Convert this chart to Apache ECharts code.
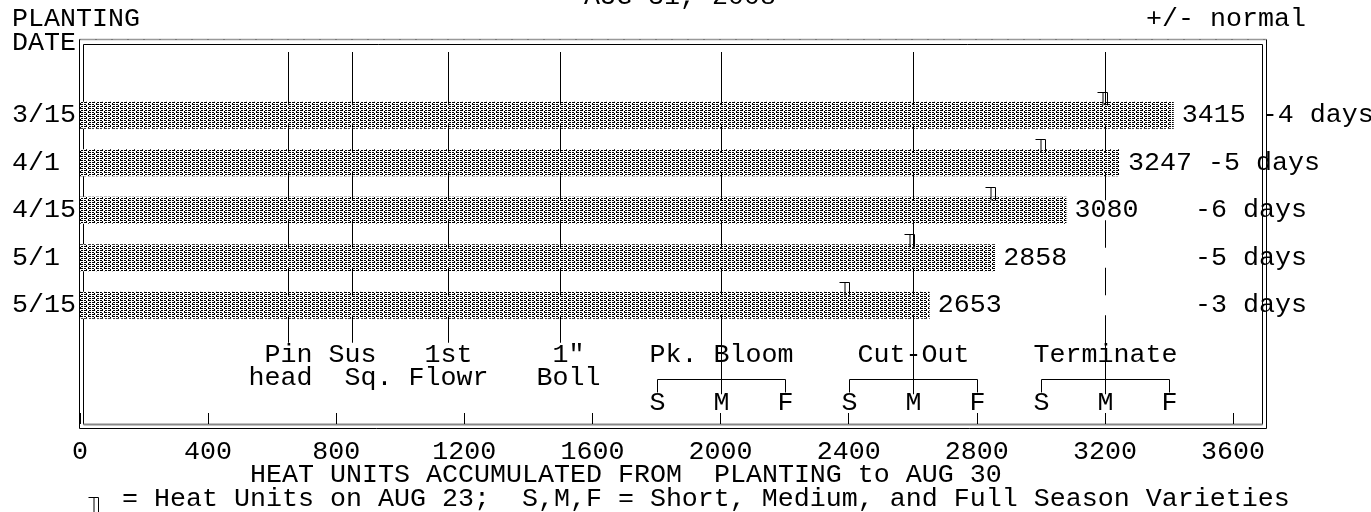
<!DOCTYPE html>
<html lang="en">
<head>
    <meta charset="UTF-8">
    <title>Heat units</title>
    <script src="https://cdn.jsdelivr.net/npm/echarts@6/dist/echarts.min.js"></script>
    <style>
        html, body { margin: 0; padding: 0; background: #fff; }
        #main { width: 1371px; height: 512px; }
    </style>
</head>
<body>
<div id="main"></div>
<script>
    // planting dates and heat units accumulated to AUG 30
    const dates = ['3/15', '4/1', '4/15', '5/1', '5/15']
    const heatUnits = [3415, 3247, 3080, 2858, 2653]
    const daysFromNormal = [-4, -5, -6, -5, -3]
    // heat units on AUG 23 (the little marks above the bars)
    const aug23Units = [3195, 3000, 2845, 2590, 2390]

    // crop stages
    const stageUnits = [650, 850, 1150, 1500]
    const stageTop = [' Pin ', ' Sus ', '1st', ' 1"']
    const stageBottom = ['head ', '  Sq.', 'Flowr', ' Boll']
    const seasonStages = ['Pk. Bloom', 'Cut-Out', 'Terminate']
    const seasonShort = [1800, 2400, 3000]
    const seasonMedium = [2000, 2600, 3200]
    const seasonFull = [2200, 2800, 3400]

    const xMin = 0, xMax = 3600, xStep = 400

    const FONT = '"Liberation Mono", "DejaVu Sans Mono", monospace'
    const FS = 26.67
    const CW = 16          // character width of the mono font
    const GRID = {left: 80, right: 138, top: 44, bottom: 88}
    const daysColumn = 1195

    const axisCats = [''].concat(dates, [' ', '  '])

    function makePattern() {
        const c = document.createElement('canvas')
        c.width = 8
        c.height = 4
        const g = c.getContext('2d')
        g.fillStyle = '#fff'
        g.fillRect(0, 0, 8, 4)
        g.fillStyle = '#000'
        const rows = ['###.##..', '......#.', '.##.###.', '#.......']
        rows.forEach(function (r, y) {
            for (let x = 0; x < r.length; x++) {
                if (r[x] === '#') g.fillRect(x, y, 1, 1)
            }
        })
        return c
    }

    function crisp(v) {
        return Math.round(v) + 0.5
    }

    function vline(x, y1, y2) {
        return {type: 'line', shape: {x1: x, y1: y1, x2: x, y2: y2}, style: {stroke: '#000', lineWidth: 1}}
    }

    function txt(text, x, y, align) {
        return {
            type: 'text',
            style: {text: text, x: x, y: y, fill: '#000', fontSize: FS, fontFamily: FONT,
                align: align || 'center', verticalAlign: 'middle'}
        }
    }

    // vertical stage line, hidden where the bar rows are
    function gapSegments(api, x, y0, y1) {
        const out = []
        let cur = y0
        for (let i = 1; i <= dates.length; i++) {
            const c = api.coord([0, i])[1]
            if (c - 10 > cur) out.push(vline(x, cur, c - 10))
            cur = Math.max(cur, c + 10)
        }
        if (y1 > cur) out.push(vline(x, cur, y1))
        return out
    }

    function renderStage(params, api) {
        const i = params.dataIndex
        const x = crisp(api.coord([api.value(0), 0])[0])
        const top = params.coordSys.y
        const band = api.size([0, 1])[1]
        const row1 = api.coord([0, 6])[1] + 2
        const children = gapSegments(api, x, top + 8, row1 - 12)
        children.push(txt(stageTop[i], x, row1))
        children.push(txt(stageBottom[i], x, row1 + band / 2 - 1))
        return {type: 'group', children: children}
    }

    function renderSeason(params, api) {
        const i = params.dataIndex
        const x = crisp(api.coord([seasonMedium[i], 0])[0])
        const xs = crisp(api.coord([seasonShort[i], 0])[0])
        const xf = crisp(api.coord([seasonFull[i], 0])[0])
        const top = params.coordSys.y
        const band = api.size([0, 1])[1]
        const row1 = api.coord([0, 6])[1] + 2
        const row3 = api.coord([0, 7])[1] + 3
        const by = crisp(row1 + band / 2)
        const children = gapSegments(api, x, top + 8, row3 - 9)
        children.push({type: 'polyline', shape: {points: [[xs, by + 13], [xs, by], [xf, by], [xf, by + 13]]},
            style: {stroke: '#000', lineWidth: 1, fill: null}})
        children.push(txt(seasonStages[i], x, row1))
        children.push(txt('S', xs, row3))
        children.push(txt('M', x, row3))
        children.push(txt('F', xf, row3))
        return {type: 'group', children: children}
    }

    // "+/- days" text: fixed column unless the value label is in the way
    function renderDays(params, api) {
        const i = params.dataIndex
        const p = api.coord([api.value(0), api.value(1)])
        const valueLen = String(heatUnits[i]).length
        const x = Math.max(daysColumn, p[0] + 8 + (valueLen + 1) * CW)
        return txt(daysFromNormal[i] + ' days', x, p[1], 'left')
    }

    function markShape(x, yTop, h) {
        return {
            type: 'group',
            children: [
                {type: 'line', shape: {x1: x - 6, y1: yTop, x2: x + 4, y2: yTop}, style: {stroke: '#000', lineWidth: 1}},
                vline(x - 0.5, yTop, yTop + h),
                vline(x + 4, yTop, yTop + h)
            ]
        }
    }

    function renderMark(params, api) {
        const p = api.coord([api.value(0), api.value(1)])
        const yTop = crisp(p[1] - 13.5 - 10)
        return markShape(Math.round(p[0]) + 0.5, yTop, 13)
    }

    const chart = echarts.init(document.getElementById('main'), null, {renderer: 'canvas'})

    const L = GRID.left
    const innerR = 1262.5, outerR = 1266.5
    const frame = [
        {type: 'line', z: 0, shape: {x1: 79.5, y1: 39.5, x2: outerR, y2: 39.5}, style: {stroke: '#999', lineWidth: 1.5}},
        {type: 'line', z: 0, shape: {x1: 79.5, y1: 39.5, x2: outerR, y2: 39.5}, style: {stroke: '#555', lineWidth: 1, lineDash: [1, 15]}},
        {type: 'line', z: 0, shape: {x1: 83.5, y1: 44.5, x2: innerR, y2: 44.5}, style: {stroke: '#000', lineWidth: 1}},
        {type: 'line', z: 0, shape: {x1: 79.5, y1: 39.5, x2: 79.5, y2: 428.5}, style: {stroke: '#000', lineWidth: 1}},
        {type: 'line', z: 0, shape: {x1: 83.5, y1: 44.5, x2: 83.5, y2: 424.5}, style: {stroke: '#000', lineWidth: 1}},
        {type: 'line', z: 0, shape: {x1: innerR, y1: 44.5, x2: innerR, y2: 424.5}, style: {stroke: '#000', lineWidth: 1}},
        {type: 'line', z: 0, shape: {x1: outerR, y1: 39.5, x2: outerR, y2: 428.5}, style: {stroke: '#000', lineWidth: 1}},
        {type: 'line', z: 0, shape: {x1: 83.5, y1: 424.5, x2: innerR, y2: 424.5}, style: {stroke: '#888', lineWidth: 2}},
        {type: 'line', z: 0, shape: {x1: 79.5, y1: 428.5, x2: outerR, y2: 428.5}, style: {stroke: '#000', lineWidth: 1}}
    ]
    function gtext(text, x, y, align) {
        return {type: 'text', z: 5, style: {text: text, x: x, y: y, fill: '#000', fontSize: FS, fontFamily: FONT,
            align: align || 'left', verticalAlign: 'middle'}}
    }
    const texts = [
        gtext('AUG 31, 2008', 680, -3, 'center'),
        gtext('PLANTING', 12, 19),
        gtext('DATE', 12, 43),
        gtext('+/- normal', 1146, 19),
        gtext('HEAT UNITS ACCUMULATED FROM  PLANTING to AUG 30', 250, 475),
        gtext('= Heat Units on AUG 23;  S,M,F = Short, Medium, and Full Season Varieties', 122, 499),
        Object.assign(markShape(94.5, 497.5, 15), {z: 5})
    ]

    const option = {
        animation: false,
        backgroundColor: '#fff',
        textStyle: {fontFamily: FONT},
        grid: GRID,
        graphic: frame.concat(texts),
        xAxis: {
            type: 'value',
            min: xMin,
            max: xMax,
            interval: xStep,
            axisLine: {show: false},
            axisTick: {show: true, inside: true, length: 11, lineStyle: {color: '#000', width: 1}},
            splitLine: {show: false},
            axisLabel: {color: '#000', fontSize: FS, fontFamily: FONT, margin: 14,
                formatter: function (v) { return String(v) }}
        },
        yAxis: {
            type: 'category',
            inverse: true,
            data: axisCats,
            axisLine: {show: false},
            axisTick: {show: false},
            splitLine: {show: false},
            axisLabel: {color: '#000', fontSize: FS, fontFamily: FONT, align: 'left', margin: L - 12}
        },
        series: [
            {
                type: 'bar',
                z: 2,
                barWidth: 27,
                data: heatUnits.map(function (v, i) { return [v, i + 1] }),
                itemStyle: {color: {image: makePattern(), repeat: 'repeat'}},
                label: {
                    show: true,
                    position: 'right',
                    distance: 8,
                    color: '#000',
                    fontSize: FS,
                    fontFamily: FONT,
                    formatter: function (p) { return String(p.value[0]) }
                }
            },
            {
                type: 'custom',
                z: 3,
                renderItem: renderDays,
                data: heatUnits.map(function (v, i) { return [v, i + 1] })
            },
            {
                type: 'custom',
                z: 3,
                renderItem: renderMark,
                data: aug23Units.map(function (v, i) { return [v, i + 1] })
            },
            {
                type: 'custom',
                z: 3,
                renderItem: renderStage,
                data: stageUnits.map(function (v) { return [v, 0] })
            },
            {
                type: 'custom',
                z: 3,
                renderItem: renderSeason,
                data: seasonMedium.map(function (v) { return [v, 0] })
            }
        ]
    }
    chart.setOption(option)
</script>
</body>
</html>
